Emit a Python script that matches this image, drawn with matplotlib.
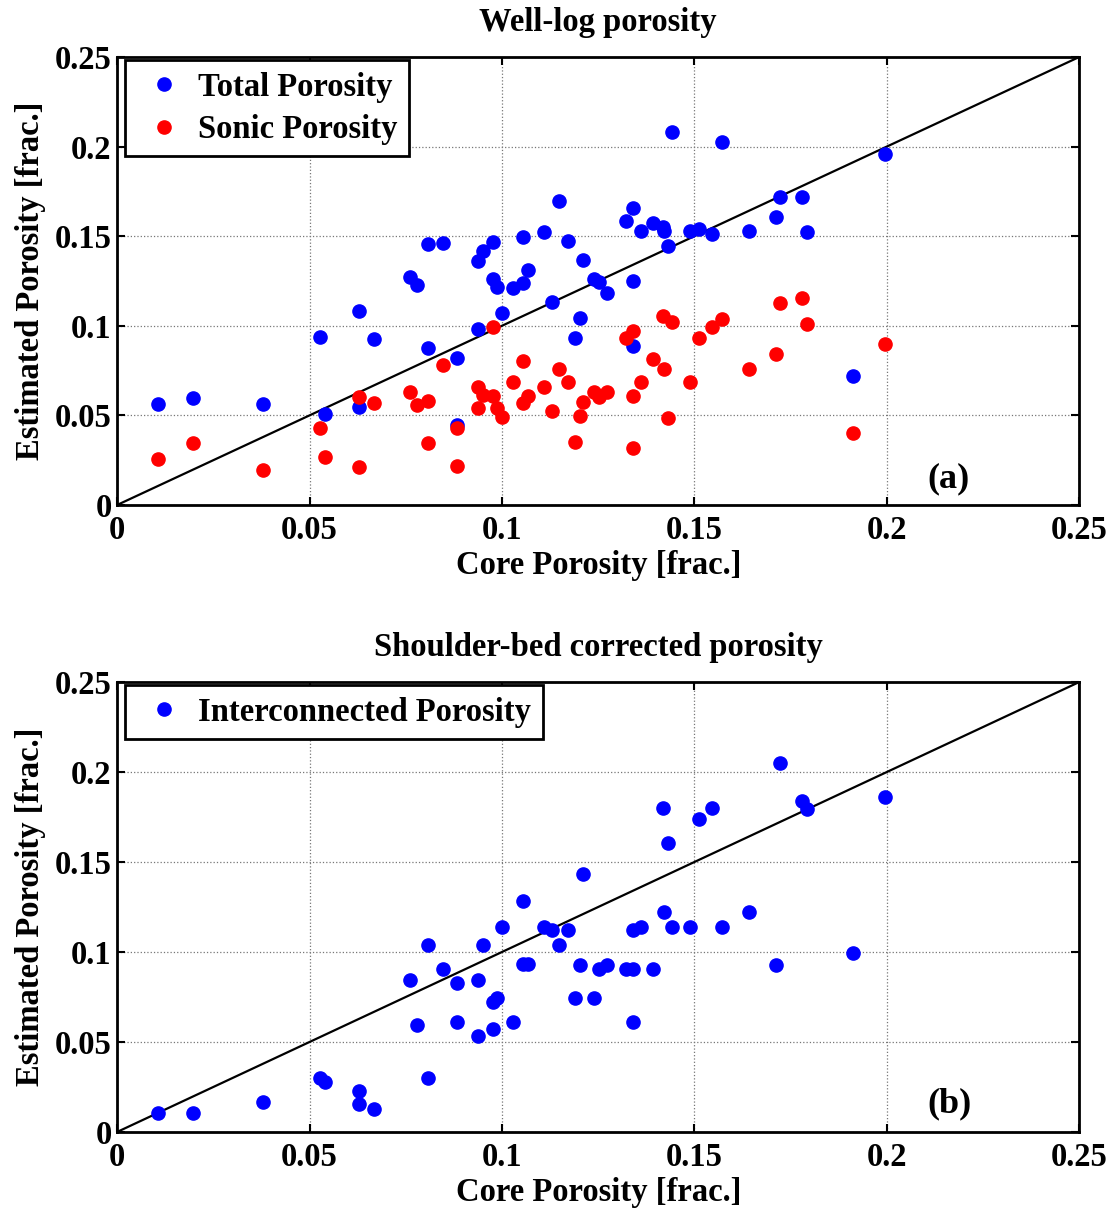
import matplotlib
matplotlib.use("Agg")
import matplotlib.pyplot as plt


# core porosity shared by all three series
core_porosity = [
    0.0106, 0.0197, 0.0379, 0.0527, 0.0540, 0.0629, 0.0629, 0.0668, 0.0761, 0.0779,
    0.0808, 0.0808, 0.0847, 0.0883, 0.0883, 0.0938, 0.0938, 0.0951, 0.0977, 0.0977,
    0.0987, 0.1000, 0.1029, 0.1055, 0.1055, 0.1068, 0.1109, 0.1130, 0.1148, 0.1171,
    0.1190, 0.1203, 0.1210, 0.1239, 0.1252, 0.1273, 0.1322, 0.1340, 0.1340, 0.1340,
    0.1361, 0.1392, 0.1418, 0.1421, 0.1431, 0.1442, 0.1488, 0.1512, 0.1545, 0.1571,
    0.1642, 0.1712, 0.1722, 0.1779, 0.1792, 0.1912, 0.1995,
]

total_porosity = [
    0.0564, 0.0598, 0.0564, 0.0939, 0.0508, 0.1084, 0.0547, 0.0927, 0.1270, 0.1229,
    0.1458, 0.0877, 0.1464, 0.0821, 0.0447, 0.0983, 0.1363, 0.1419, 0.1469, 0.1263,
    0.1218, 0.1073, 0.1212, 0.1240, 0.1497, 0.1313, 0.1525, 0.1134, 0.1698, 0.1475,
    0.0933, 0.1045, 0.1369, 0.1263, 0.1246, 0.1184, 0.1587, 0.1659, 0.1251, 0.0888,
    0.1531, 0.1575, 0.1553, 0.1531, 0.1447, 0.2084, 0.1531, 0.1542, 0.1514, 0.2028,
    0.1531, 0.1609, 0.1721, 0.1721, 0.1525, 0.0721, 0.1961,
]

sonic_porosity = [
    0.0257, 0.0346, 0.0196, 0.0430, 0.0268, 0.0603, 0.0212, 0.0570, 0.0631, 0.0559,
    0.0581, 0.0346, 0.0782, 0.0430, 0.0218, 0.0659, 0.0542, 0.0615, 0.0609, 0.0994,
    0.0542, 0.0492, 0.0687, 0.0804, 0.0570, 0.0609, 0.0659, 0.0525, 0.0760, 0.0687,
    0.0352, 0.0497, 0.0575, 0.0631, 0.0603, 0.0631, 0.0933, 0.0972, 0.0609, 0.0318,
    0.0687, 0.0816, 0.1056, 0.0760, 0.0486, 0.1022, 0.0687, 0.0933, 0.0994, 0.1039,
    0.0760, 0.0844, 0.1128, 0.1156, 0.1011, 0.0402, 0.0899,
]

interconnected_porosity = [
    0.0106, 0.0106, 0.0167, 0.0300, 0.0278, 0.0228, 0.0156, 0.0128, 0.0844, 0.0594,
    0.1039, 0.0300, 0.0906, 0.0828, 0.0611, 0.0844, 0.0533, 0.1039, 0.0722, 0.0572,
    0.0744, 0.1139, 0.0611, 0.1283, 0.0933, 0.0933, 0.1139, 0.1122, 0.1039, 0.1122,
    0.0744, 0.0928, 0.1433, 0.0744, 0.0906, 0.0928, 0.0906, 0.1122, 0.0906, 0.0611,
    0.1139, 0.0906, 0.1800, 0.1222, 0.1606, 0.1139, 0.1139, 0.1739, 0.1800, 0.1139,
    0.1222, 0.0928, 0.2050, 0.1839, 0.1794, 0.0994, 0.1861,
]

axis_ticks = [0, 0.05, 0.1, 0.15, 0.2, 0.25]
tick_labels = ["0", "0.05", "0.1", "0.15", "0.2", "0.25"]

plt.rcParams["font.family"] = ["Liberation Serif", "DejaVu Serif"]
plt.rcParams["font.weight"] = "bold"

FONT_SIZE = 23.5


def style_axes(ax, title, tag, tag_y):
    ax.plot([0, 0.25], [0, 0.25], color="black", linewidth=1.6, zorder=3)
    ax.set_xlim(0, 0.25)
    ax.set_ylim(0, 0.25)
    ax.set_xticks(axis_ticks)
    ax.set_yticks(axis_ticks)
    ax.set_xticklabels(tick_labels, fontsize=FONT_SIZE, fontweight="bold")
    ax.set_yticklabels(tick_labels, fontsize=FONT_SIZE, fontweight="bold")
    ax.tick_params(direction="in", top=True, right=True, length=6, width=1.5, pad=4)
    ax.tick_params(axis="x", pad=7)
    ax.grid(True, color="#777777", linestyle=":", linewidth=0.9)
    for spine in ax.spines.values():
        spine.set_linewidth(2)
    ax.set_title(title, fontsize=FONT_SIZE, fontweight="bold", pad=19)
    ax.set_xlabel("Core Porosity [frac.]", fontsize=FONT_SIZE, fontweight="bold", labelpad=3)
    ax.set_ylabel("Estimated Porosity [frac.]", fontsize=FONT_SIZE, fontweight="bold", labelpad=6)
    ax.text(0.2104, tag_y, tag, fontsize=26, fontweight="bold")


def style_legend(ax):
    leg = ax.legend(loc="upper left", fontsize=FONT_SIZE, fancybox=False, framealpha=1,
                    edgecolor="black", handletextpad=0.2, borderpad=0.35,
                    labelspacing=0.35, handlelength=1.7, borderaxespad=0,
                    bbox_to_anchor=(0.008, 0.993))
    leg.get_frame().set_linewidth(2)
    for text in leg.get_texts():
        text.set_fontweight("bold")


fig = plt.figure(figsize=(11.15, 12.09), dpi=100)
ax_a = fig.add_axes([0.105, 0.5823, 0.863, 0.3706])
ax_b = fig.add_axes([0.105, 0.0637, 0.863, 0.3722])

ax_a.plot(core_porosity, total_porosity, "o", color="#0000ff", markersize=9.5,
          label="Total Porosity", zorder=4)
ax_a.plot(core_porosity, sonic_porosity, "o", color="#ff0000", markersize=9.5,
          label="Sonic Porosity", zorder=4)
style_axes(ax_a, "Well-log porosity", "(a)", 0.010)
style_legend(ax_a)

ax_b.plot(core_porosity, interconnected_porosity, "o", color="#0000ff", markersize=9.5,
          label="Interconnected Porosity", zorder=4)
style_axes(ax_b, "Shoulder-bed corrected porosity", "(b)", 0.011)
style_legend(ax_b)

fig.savefig("out.png", dpi=100)
